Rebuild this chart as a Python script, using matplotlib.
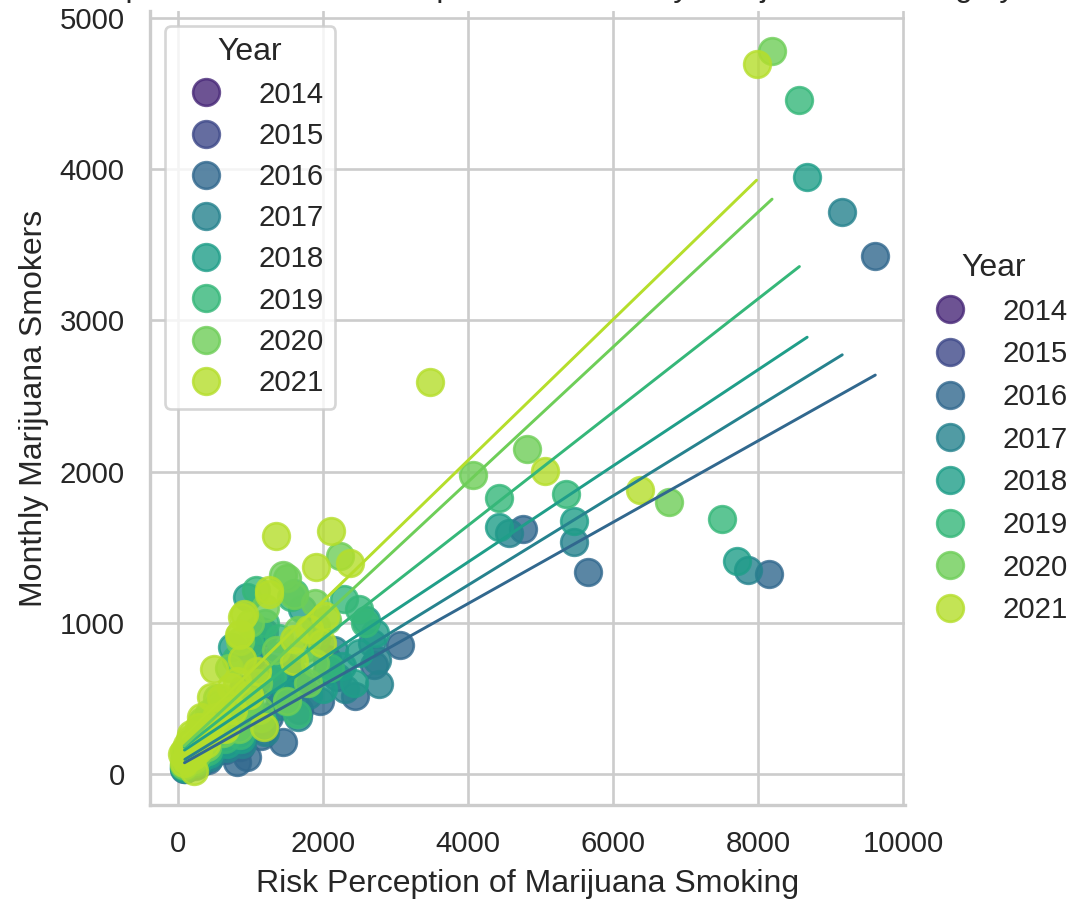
"""Monthly marijuana smokers vs risk perception, one regression per year."""

import matplotlib.pyplot as plt
import numpy as np
import seaborn as sns
from matplotlib.lines import Line2D

years = [2014, 2015, 2016, 2017, 2018, 2019, 2020, 2021]

# per-state values (thousands); 2014 and 2015 have no usable rows
risk_2016 = [9619, 8159, 5650, 4760, 3067, 2446, 1963, 2700, 2200, 1664, 1448, 1186, 1100, 1350,
             957, 819, 1700, 2050, 900, 1250, 700, 600, 520, 450, 380, 320, 260, 200, 160, 120,
             100, 90, 140, 240, 300, 420, 560, 650, 760, 850, 1000, 1150, 350]
smokers_2016 = [3424, 1322, 1333, 1619, 856, 514, 481, 720, 640, 426, 212, 939, 640, 560,
                110, 77, 600, 760, 450, 380, 300, 210, 150, 260, 120, 180, 90, 140, 60, 40,
                75, 30, 100, 55, 70, 95, 330, 160, 230, 180, 300, 250, 230]

risk_2017 = [9163, 7866, 5456, 4571, 2768, 2745, 2676, 2300, 2050, 1800, 1550, 1300, 1150, 1020,
             900, 1400, 1650, 2150, 750, 640, 560, 480, 400, 330, 270, 210, 170, 130, 105, 95,
             150, 250, 310, 440, 590, 680, 790, 880, 1050, 1200, 360]
smokers_2017 = [3717, 1350, 1532, 1595, 592, 757, 868, 560, 680, 520, 700, 620, 880, 790,
                560, 450, 380, 820, 330, 250, 190, 290, 140, 200, 100, 150, 70, 50, 85, 35,
                115, 60, 80, 110, 370, 170, 260, 200, 330, 280, 250]

risk_2018 = [8679, 7712, 5466, 4422, 2722, 2492, 2423, 2262, 2600, 1900, 1710, 1618, 1400, 1250,
             957, 1100, 750, 1500, 2000, 720, 620, 540, 470, 390, 320, 260, 200, 160, 125, 100,
             90, 145, 240, 300, 430, 580, 670, 800, 870, 1030, 1180, 350]
smokers_2018 = [3947, 1411, 1674, 1635, 934, 801, 603, 713, 1020, 900, 1088, 647, 780, 700,
                1170, 950, 839, 520, 560, 380, 290, 220, 330, 160, 230, 120, 170, 80, 60, 95,
                40, 130, 70, 100, 130, 420, 200, 300, 230, 380, 330, 280]

risk_2019 = [8572, 7503, 5352, 4422, 2584, 2492, 2285, 1595, 1555, 1070, 1900, 1750, 1400, 1200,
             1000, 800, 1300, 2100, 1647, 1509, 700, 600, 520, 450, 380, 310, 250, 195, 155, 120,
             100, 88, 140, 230, 290, 420, 560, 650, 780, 860, 1010, 1150, 340]
smokers_2019 = [4455, 1685, 1853, 1825, 1000, 1088, 1155, 1199, 1170, 1214, 980, 830, 900, 1000,
                860, 760, 640, 700, 397, 475, 420, 320, 250, 360, 180, 260, 140, 190, 95, 70,
                110, 50, 150, 85, 120, 150, 460, 230, 340, 260, 430, 370, 310]

risk_2020 = [8195, 6768, 4820, 4065, 2239, 1894, 1894, 1509, 1604, 1442, 1200, 1000, 1650, 2050,
             1350, 850, 700, 1100, 1800, 1500, 660, 580, 500, 430, 360, 300, 240, 185, 150, 115,
             98, 85, 135, 220, 280, 400, 540, 620, 760, 840, 980, 1120, 330]
smokers_2020 = [4784, 1799, 2149, 1978, 1442, 1132, 735, 1298, 1181, 1313, 1100, 1000, 950, 1020,
                820, 880, 700, 600, 600, 480, 460, 360, 290, 400, 210, 290, 160, 210, 110, 80,
                130, 60, 170, 100, 140, 180, 500, 270, 380, 300, 480, 420, 350]

risk_2021 = [7981, 6370, 5058, 3478, 2115, 2377, 1907, 1349, 2032, 1802, 1595, 1986, 1256, 1256,
             888, 907, 842, 860, 888, 1095, 819, 727, 497, 1187, 1600, 451, 313, 175, 60, 221,
             600, 520, 430, 360, 290, 230, 170, 140, 110, 90, 80, 130, 210, 270, 390, 650, 760, 980]
smokers_2021 = [4695, 1875, 2002, 2593, 1607, 1397, 1368, 1571, 1044, 956, 890, 868, 1214, 1192,
                1038, 1060, 916, 928, 762, 684, 618, 574, 695, 309, 750, 508, 375, 265, 132, 22,
                500, 380, 300, 230, 310, 180, 230, 120, 90, 150, 70, 190, 120, 160, 200, 300, 420, 520]

data = {
    2016: (risk_2016, smokers_2016),
    2017: (risk_2017, smokers_2017),
    2018: (risk_2018, smokers_2018),
    2019: (risk_2019, smokers_2019),
    2020: (risk_2020, smokers_2020),
    2021: (risk_2021, smokers_2021),
}

sns.set_theme(style="whitegrid")
plt.rcParams["font.family"] = ["Liberation Sans", "DejaVu Sans"]
palette = sns.color_palette("viridis", len(years))

fig = plt.figure(figsize=(1079 / 192, 899 / 192), dpi=192)
ax = fig.add_axes([0.139, 0.1046, 0.6997, 0.8832])

for year, color in zip(years, palette):
    if year not in data:
        continue
    x, y = data[year]
    sns.regplot(x=np.asarray(x, float), y=np.asarray(y, float), ci=None, color=color, ax=ax,
                scatter_kws={"s": 100}, line_kws={"lw": 1.1})

ax.set_xlim(-386, 10028)
ax.set_ylim(-205, 5046)
ax.set_xticks(np.arange(0, 10001, 2000))
ax.set_yticks(np.arange(0, 5001, 1000))
ax.set_xlabel("Risk Perception of Marijuana Smoking")
ax.set_ylabel("Monthly Marijuana Smokers")
# the source figure is cropped through this title; only its descenders show
ax.set_title("Relationship between Risk Perception and Monthly Marijuana Smoking by Year", pad=5.5)
sns.despine(ax=ax)

handles = [Line2D([], [], marker="o", linestyle="", markersize=10, markeredgewidth=1,
                  color=c, alpha=0.8) for c in palette]
labels = [str(y) for y in years]
ax.legend(handles, labels, title="Year", loc="upper left", labelspacing=0.45)
fig.legend(handles, labels, title="Year", loc="upper left",
           bbox_to_anchor=(0.8286, 0.748), frameon=False)

fig.savefig("out.png", dpi=192)
